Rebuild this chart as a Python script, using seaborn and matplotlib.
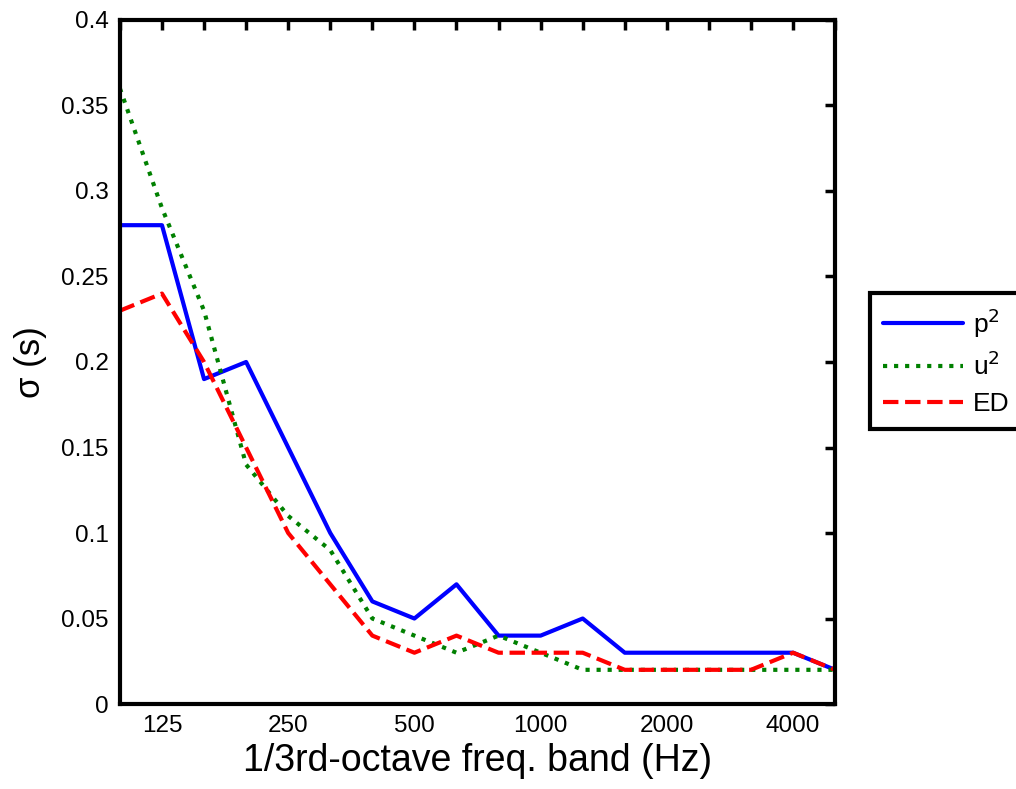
import numpy as np
import pandas as pd
import seaborn as sns
import matplotlib.pyplot as plt

# 1/3rd-octave band centre frequencies (Hz)
bands = [100, 125, 160, 200, 250, 315, 400, 500, 630, 800, 1000, 1250,
         1600, 2000, 2500, 3150, 4000, 5000]
# standard deviation sigma (s) per band
p2 = [0.28, 0.28, 0.19, 0.20, 0.15, 0.10, 0.06, 0.05, 0.07, 0.04, 0.04, 0.05,
      0.03, 0.03, 0.03, 0.03, 0.03, 0.02]
u2 = [0.36, 0.29, 0.23, 0.14, 0.11, 0.09, 0.05, 0.04, 0.03, 0.04, 0.03, 0.02,
      0.02, 0.02, 0.02, 0.02, 0.02, 0.02]
ed = [0.23, 0.24, 0.20, 0.15, 0.10, 0.07, 0.04, 0.03, 0.04, 0.03, 0.03, 0.03,
      0.02, 0.02, 0.02, 0.02, 0.03, 0.02]
tick_labels = ['125', '250', '500', '1000', '2000', '4000']

sns.set_style('white')
plt.rcParams['font.family'] = ['Liberation Sans', 'DejaVu Sans']
plt.rcParams['text.color'] = 'black'
plt.rcParams['axes.labelcolor'] = 'black'
plt.rcParams['xtick.color'] = 'black'
plt.rcParams['ytick.color'] = 'black'

df = pd.DataFrame({'band': np.arange(len(bands)), 'p2': p2, 'u2': u2, 'ED': ed})

fig = plt.figure(figsize=(10.16, 7.89), dpi=100)
ax = fig.add_axes([0.118, 0.1077, 0.704, 0.867])

sns.lineplot(data=df, x='band', y='p2', ax=ax, color='#0000ff', lw=3,
             linestyle='-', label='p$^2$')
sns.lineplot(data=df, x='band', y='u2', ax=ax, color='#008000', lw=3,
             linestyle=':', label='u$^2$')
sns.lineplot(data=df, x='band', y='ED', ax=ax, color='#ff0000', lw=3,
             linestyle='--', label='ED')

ax.set_xlim(0, len(bands) - 1)
ax.set_ylim(0, 0.4)
ax.set_xticks(np.arange(len(bands)))
lbls = [str(b) if str(b) in tick_labels else '' for b in bands]
ax.set_xticklabels(lbls)
ax.set_yticks(np.arange(0, 0.401, 0.05))
ax.set_yticklabels(['0', '0.05', '0.1', '0.15', '0.2', '0.25', '0.3', '0.35', '0.4'])
ax.tick_params(direction='in', length=7, width=2.5, labelsize=17.5,
               top=True, right=True, pad=8)

for s in ax.spines.values():
    s.set_linewidth(3)
    s.set_color('black')

ax.set_xlabel('1/3rd-octave freq. band (Hz)', fontsize=27, labelpad=4)
ax.set_ylabel('σ (s)', fontsize=25, labelpad=10)

leg = ax.legend(loc='upper left', bbox_to_anchor=(1.049, 0.601), borderaxespad=0,
                fancybox=False, frameon=True, edgecolor='black', framealpha=1,
                fontsize=19, handlelength=3.0, handletextpad=0.4,
                borderpad=0.5, labelspacing=0.45)
leg.get_frame().set_linewidth(3)

fig.savefig('out.png', dpi=100)
